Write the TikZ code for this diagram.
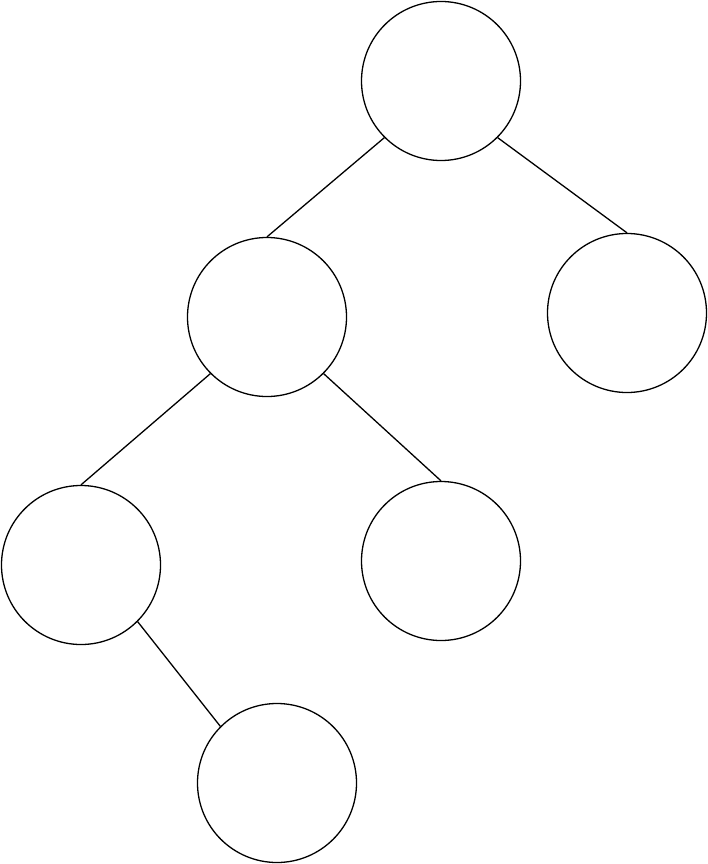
\documentclass[tikz,border=0pt]{standalone}
\begin{document}
\begin{tikzpicture}[x=1pt,y=-1pt,
  vtx/.style={circle,draw=black,line width=1.3pt,minimum size=159pt,inner sep=0pt,fill=white},
  edge/.style={draw=black,line width=1.3pt}]
\useasboundingbox[fill=white] (0,0) rectangle (708,864);
\node[vtx] (r) at (441,81) {};
\node[vtx] (a) at (267,317) {};
\node[vtx] (b) at (627,313) {};
\node[vtx] (c) at (81,565) {};
\node[vtx] (d) at (441,561) {};
\node[vtx] (e) at (277,783) {};
\draw[edge] (r.south west) -- (a.north);
\draw[edge] (r.south east) -- (b.north);
\draw[edge] (a.south west) -- (c.north);
\draw[edge] (a.south east) -- (d.north);
\draw[edge] (c.south east) -- (e.north west);
\end{tikzpicture}
\end{document}
